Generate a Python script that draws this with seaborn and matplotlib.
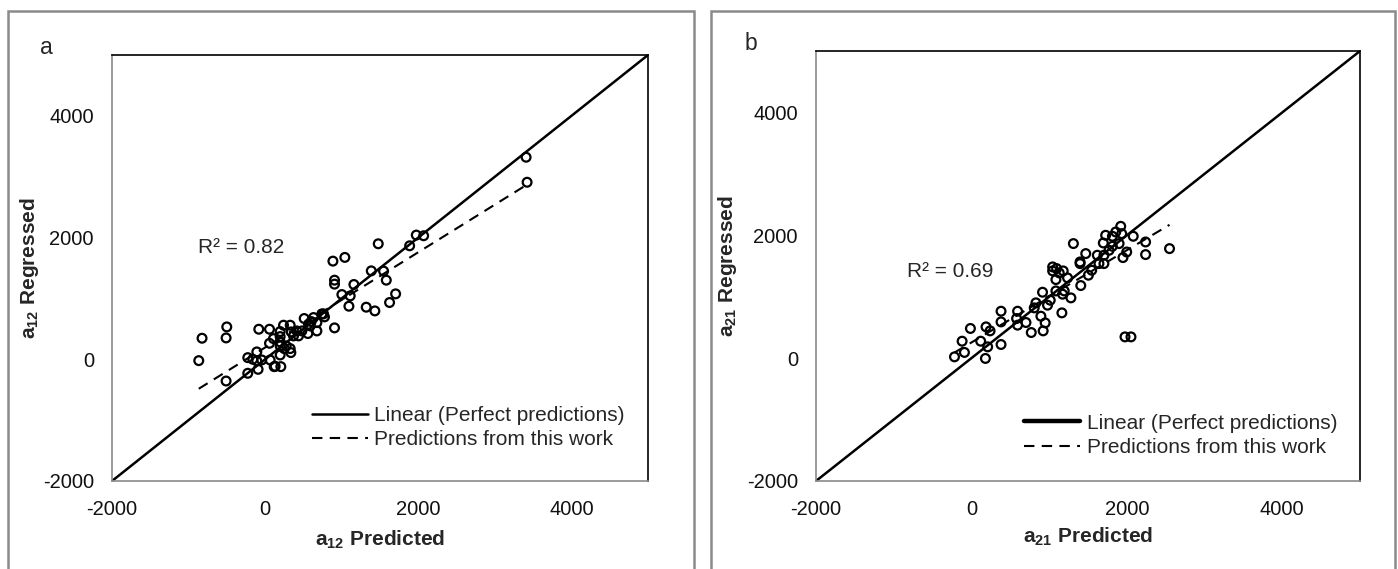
import matplotlib
matplotlib.use("Agg")
import matplotlib.pyplot as plt
from matplotlib.patches import Rectangle
from matplotlib.lines import Line2D
import pandas as pd
import seaborn as sns

# a12 interaction parameters: predicted vs regressed
a12_predicted = [3408, 3421, 1974, 2070, 1887, 1477, 885, 1041, 906, 906,
                 1159, 1386, 1547, 1582, 1002, 1111, 1094, 1320, 1433, 1625,
                 1704, 906, 775, 741, 632, 676, 510, 566, 601, 558,
                 414, 436, 327, 240, 340, 196, 57, -83, -501, -510,
                 -824, -867, -510, -227, -227, -109, -109, -161, -44, -92,
                 65, 118, 205, 196, 57, 109, 196, 248, 327, 336,
                 275, 196, 370, 480, 588, 676, 762, 196, 131]
a12_regressed = [3320, 2909, 2041, 2030, 1865, 1898, 1613, 1674, 1300, 1235,
                 1229, 1453, 1449, 1300, 1064, 1042, 872, 856, 795, 933,
                 1075, 516, 697, 746, 686, 466, 670, 576, 620, 423,
                 466, 384, 560, 560, 450, 456, 494, 494, 532, 351,
                 346, -22, -357, -230, 27, 121, -27, 0, -11, -165,
                 -11, -121, -121, 71, 263, 340, 219, 176, 176, 110,
                 219, 285, 384, 466, 548, 603, 746, 373, -115]

# a21 interaction parameters: predicted vs regressed
a21_predicted = [-218, -90, -120, -13, 180, 209, 119, 188, 240, 381,
                 381, 381, 594, 581, 594, 702, 770, 830, 808, 894,
                 949, 923, 915, 979, 1014, 1087, 1164, 1194, 1173, 1280,
                 1237, 1045, 1045, 1096, 1130, 1181, 1087, 1407, 1312, 1471,
                 1398, 1398, 1505, 1548, 1620, 1641, 1705, 1705, 1697, 1771,
                 1814, 1727, 1814, 1857, 1921, 1934, 1900, 1998, 1950, 2082,
                 2241, 2241, 2549, 1976, 2053]
a21_regressed = [21, 93, 276, 483, -5, 184, 276, 509, 444, 222,
                 590, 764, 764, 645, 537, 580, 417, 900, 818, 683,
                 574, 444, 1073, 862, 943, 1094, 737, 1094, 1041, 981,
                 1306, 1485, 1420, 1458, 1388, 1420, 1279, 1182, 1865, 1702,
                 1566, 1539, 1350, 1431, 1675, 1539, 1539, 1675, 1875, 1756,
                 1821, 2000, 1984, 2054, 2146, 2027, 1865, 1728, 1637, 1984,
                 1891, 1686, 1783, 346, 346]

panel_letters = ["a", "b"]
r2_labels = ["R\u00b2 = 0.82", "R\u00b2 = 0.69"]
x_labels = [r"$\mathbf{a_{12}}$ Predicted", r"$\mathbf{a_{21}}$ Predicted"]
y_labels = [r"$\mathbf{a_{12}}$ Regressed", r"$\mathbf{a_{21}}$ Regressed"]
legend_labels = ["Linear (Perfect predictions)", "Predictions from this work"]
axis_limits = [-2000, 5000]
tick_values = [-2000, 0, 2000, 4000]

sns.set_style("white")
plt.rcParams["font.family"] = ["Liberation Sans", "DejaVu Sans"]
plt.rcParams["axes.unicode_minus"] = False
plt.rcParams["mathtext.fontset"] = "custom"
plt.rcParams["mathtext.rm"] = "Liberation Sans"
plt.rcParams["mathtext.it"] = "Liberation Sans:italic"
plt.rcParams["mathtext.bf"] = "Liberation Sans:bold"

W, H = 1398, 569
fig = plt.figure(figsize=(W / 100, H / 100), dpi=100)
fig.patch.set_facecolor("white")


def px_box(left, top, right, bottom):
    return [left / W, 1 - bottom / H, (right - left) / W, (bottom - top) / H]


layout = [
    dict(pred=a12_predicted, reg=a12_regressed, box=(112, 55, 648, 481),
         outer=(8, 11, 694), letter=(46, 48), r2=(-876, 1844),
         leg_anchor=(0.957, 0.075), handle_lw=1.8,
         xlab_y=-0.138, ylab_x=-0.153),
    dict(pred=a21_predicted, reg=a21_regressed, box=(816, 51, 1360, 481),
         outer=(711, 11, 1395), letter=(751, 44), r2=(-833, 1415),
         leg_anchor=(0.958, 0.056), handle_lw=3.2,
         xlab_y=-0.130, ylab_x=-0.162),
]

grey = "#8a8a8a"

for i, cfg in enumerate(layout):
    # outer panel frame
    ol, ot, orr = cfg["outer"]
    fig.patches.append(Rectangle((ol / W, -0.05), (orr - ol) / W, (H - ot) / H + 0.05,
                                 transform=fig.transFigure, fill=False,
                                 edgecolor=grey, linewidth=1.8, zorder=0))
    fig.text(cfg["letter"][0] / W, 1 - cfg["letter"][1] / H, panel_letters[i],
             fontsize=16.5, ha="center", va="center")

    ax = fig.add_axes(px_box(*cfg["box"]))
    df = pd.DataFrame({"predicted": cfg["pred"], "regressed": cfg["reg"]})

    # perfect-prediction diagonal
    sns.lineplot(x=axis_limits, y=axis_limits, ax=ax, color="black",
                 linewidth=1.8, zorder=2)
    # least-squares fit of this work's predictions
    sns.regplot(data=df, x="predicted", y="regressed", ax=ax, scatter=False,
                ci=None, truncate=True,
                line_kws=dict(color="black", linewidth=1.5,
                              linestyle=(0, (5, 3.5)), zorder=2))
    sns.scatterplot(data=df, x="predicted", y="regressed", ax=ax, marker="o",
                    s=40, facecolor="none", edgecolor="black", linewidth=1.6,
                    zorder=3)

    ax.set_xlim(axis_limits)
    ax.set_ylim(axis_limits)
    ax.set_xticks(tick_values)
    ax.set_yticks(tick_values)
    ax.tick_params(direction="out", length=5, width=1, color=grey,
                   labelsize=14.5, labelcolor="#111111")
    ax.tick_params(axis="y", pad=8)
    ax.tick_params(axis="x", pad=9)
    for side in ("left", "bottom"):
        ax.spines[side].set_color(grey)
        ax.spines[side].set_linewidth(1.2)
    for side in ("top", "right"):
        ax.spines[side].set_color("black")
        ax.spines[side].set_linewidth(1.2)

    ax.set_xlabel(x_labels[i], fontsize=15, fontweight="bold")
    ax.set_ylabel(y_labels[i], fontsize=15, fontweight="bold")
    ax.xaxis.set_label_coords(0.5, cfg["xlab_y"])
    ax.xaxis.label.set_va("center")
    ax.yaxis.set_label_coords(cfg["ylab_x"], 0.5)
    ax.yaxis.label.set_va("center")

    ax.text(cfg["r2"][0], cfg["r2"][1], r2_labels[i], fontsize=15,
            ha="left", va="center")

    handles = [Line2D([], [], color="black", linewidth=cfg["handle_lw"]),
               Line2D([], [], color="black", linewidth=1.5,
                      linestyle=(0, (5, 3.5)))]
    ax.legend(handles, legend_labels, loc="lower right",
              bbox_to_anchor=cfg["leg_anchor"], frameon=False, fontsize=15,
              handlelength=2.7, handletextpad=0.3, labelspacing=0.25,
              borderpad=0, borderaxespad=0)

fig.savefig("out.png", dpi=100, facecolor="white")
